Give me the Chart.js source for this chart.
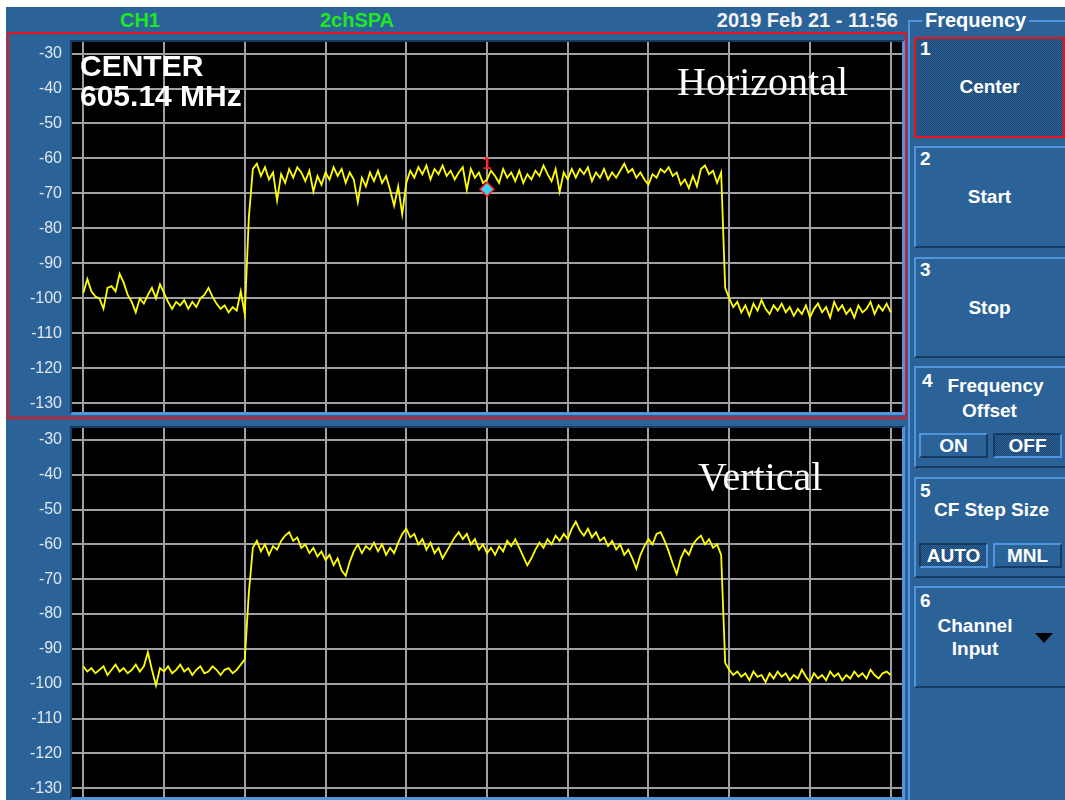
<!DOCTYPE html>
<html>
<head>
<meta charset="utf-8">
<script src="https://cdn.jsdelivr.net/npm/chart.js"></script>
<style>
    body {margin: 0; width: 1065px; height: 800px; overflow: hidden; background: #fff; font-family: 'Liberation Sans', Arial, sans-serif; position: relative}
    .abs {position: absolute}
    #app {left: 6px; top: 7px; width: 1059px; height: 793px; background: #2b6399}
    .hdr {top: 10px; font-weight: bold; font-size: 20px; line-height: 1; white-space: nowrap}
    .grp {background: #4f96de}
    .redbox {left: 7px; top: 32px; width: 900px; height: 387px; border: 2px solid #e8141c; box-sizing: border-box}
    .frame {left: 70px; width: 835px; background: #000; box-sizing: border-box;
        border-top: 2px solid #173b60; border-left: 2px solid #173b60; border-right: 3px solid #4f96de; border-bottom: 3px solid #4f96de}
    canvas {position: absolute; left: 10px; z-index: 2}
    .big {left: 80px; z-index: 3; color: #fff; font-weight: bold; font-size: 30px; line-height: 1; white-space: nowrap}
    .serif {z-index: 3; color: #fff; font-family: 'Liberation Serif', 'Times New Roman', serif; font-size: 40px; line-height: 1; white-space: nowrap}
    .btn {left: 914px; width: 151px; box-sizing: border-box; color: #fff; font-weight: bold; font-size: 19px; line-height: 1;
        border-top: 2px solid #4f96de; border-left: 2px solid #4f96de; border-bottom: 2px solid #173b60}
    .btn span {position: absolute; white-space: nowrap}
    .btn .lbl {left: 0; width: 147px; text-align: center}
    .sel {background-color: #23527f;
        background-image: conic-gradient(#1c4570 25%, #2b6399 0 50%, #1c4570 0 75%, #2b6399 0);
        background-size: 2px 2px}
    .btn1 {border: 2px solid #e8141c}
    .mini {position: absolute; width: 69px; height: 25px; box-sizing: border-box; text-align: center; line-height: 21px;
        border: 2px solid; border-color: #4f96de #173b60 #173b60 #4f96de}
    .mini.sel {border-color: #173b60 #4f96de #4f96de #173b60}
    .tri {position: absolute; width: 0; height: 0; border-left: 9px solid transparent; border-right: 9px solid transparent; border-top: 10px solid #000}
</style>
</head>
<body>
<div id="app" class="abs"></div>

<!-- 顶部标题栏 -->
<div class="abs hdr" style="left:100px;width:80px;text-align:center;color:#1ee81e">CH1</div>
<div class="abs hdr" style="left:307px;width:100px;text-align:center;color:#1ee81e">2chSPA</div>
<div class="abs hdr" style="left:640px;width:258px;text-align:right;color:#f2f2f2">2019 Feb 21 - 11:56</div>
<div class="abs hdr" style="left:925px;color:#fff">Frequency</div>
<div class="abs grp" style="left:908px;top:20px;width:14px;height:2px"></div>
<div class="abs grp" style="left:1029px;top:20px;width:36px;height:2px"></div>
<div class="abs grp" style="left:908px;top:20px;width:2px;height:780px"></div>

<!-- 图表区域 -->
<div class="abs redbox"></div>
<div class="abs frame" style="top:40px;height:375px"></div>
<div class="abs frame" style="top:426px;height:374px"></div>
<canvas id="hChart" width="892" height="394" style="top:30px"></canvas>
<canvas id="vChart" width="892" height="396" style="top:416px"></canvas>

<div class="abs big" style="top:51px">CENTER</div>
<div class="abs big" style="top:81px">605.14 MHz</div>
<div class="abs serif" style="left:677px;top:62px">Horizontal</div>
<div class="abs serif" style="left:698px;top:457px">Vertical</div>

<!-- 右侧菜单 -->
<div class="abs btn btn1 sel" style="top:37px;height:101px">
    <span style="left:4px;top:0">1</span>
    <span class="lbl" style="top:38px">Center</span>
</div>
<div class="abs btn" style="top:146px;height:102px">
    <span style="left:4px;top:1px">2</span>
    <span class="lbl" style="top:39px">Start</span>
</div>
<div class="abs btn" style="top:257px;height:101px">
    <span style="left:4px;top:1px">3</span>
    <span class="lbl" style="top:39px">Stop</span>
</div>
<div class="abs btn" style="top:366px;height:102px">
    <span style="left:6px;top:3px">4</span>
    <span class="lbl" style="top:8px;left:6px">Frequency</span>
    <span class="lbl" style="top:33px">Offset</span>
    <div class="mini" style="left:3px;top:65px">ON</div>
    <div class="mini sel" style="left:77px;top:65px">OFF</div>
</div>
<div class="abs btn" style="top:477px;height:101px">
    <span style="left:4px;top:2px">5</span>
    <span class="lbl" style="top:21px;left:2px">CF Step Size</span>
    <div class="mini sel" style="left:3px;top:64px">AUTO</div>
    <div class="mini" style="left:77px;top:64px">MNL</div>
</div>
<div class="abs btn" style="top:586px;height:102px">
    <span style="left:4px;top:3px">6</span>
    <span style="left:0;width:118px;text-align:center;top:28px">Channel</span>
    <span style="left:0;width:118px;text-align:center;top:51px">Input</span>
    <div class="tri" style="left:119px;top:45px"></div>
</div>

<script>
// 扫频参数 (MHz)
var freqStart = 600.14
var freqStep = 0.05
var gridFreqs = [600.14, 601.14, 602.14, 603.14, 604.14, 605.14, 606.14, 607.14, 608.14, 609.14, 610.14]
var levelTicks = [-30, -40, -50, -60, -70, -80, -90, -100, -110, -120, -130]

// Horizontal 通道 (dBm)
var horizTrace = [
    -98.5, -94.5, -98, -99.5, -100, -103, -97, -96.5, -98, -93,
    -95.5, -99, -101, -104, -100, -101.5, -99, -97, -100, -96,
    -98.5, -101, -103, -101, -102, -100.5, -103, -101, -102.5, -100,
    -99, -97, -99.5, -101.5, -103, -102, -104, -102.5, -103.5, -98,
    -104.5, -77, -63, -61.5, -65, -62.5, -66, -64, -72, -64.5,
    -67, -63, -65.5, -62.5, -64, -66.5, -63.5, -69.5, -65, -67.5,
    -64, -66, -62.5, -65, -63, -67, -64, -66, -72.5, -65.5,
    -68, -64, -66.5, -63.5, -67, -65, -69, -73.5, -68, -76,
    -67, -63.5, -65.5, -62.5, -64.5, -62, -66, -63, -64.5, -62,
    -65, -63.5, -66, -64, -62.5, -69, -63, -65.5, -64, -67,
    -66, -63.5, -65, -67, -63, -65.5, -64, -66.5, -63.5, -67,
    -64.5, -66, -63.5, -65, -62, -64.5, -66.5, -63, -69.5, -64,
    -66, -63, -65.5, -63, -64.5, -62.5, -66.5, -64, -65.5, -63,
    -66, -64, -65.5, -63.5, -61.5, -64, -63, -65.5, -64, -66,
    -67.5, -64.5, -65.5, -63, -64, -62.5, -65, -64, -67.5, -66,
    -68.5, -65, -68, -63, -62, -64.5, -63.5, -67, -64, -97,
    -100, -102.5, -101, -104, -102, -105, -101.5, -103.5, -100.5, -103,
    -104.5, -102, -103.5, -101.5, -104, -102.5, -105, -103, -104.5, -102,
    -105.5, -103, -101.5, -104, -102.5, -105.5, -101, -103.5, -102, -104.5,
    -103, -105.5, -102, -104, -103, -101, -104.5, -102, -103.5, -101.5,
    -104
]

// Vertical 通道 (dBm)
var vertTrace = [
    -95, -96.5, -95.5, -97, -96, -95, -97.5, -96, -94.5, -96.5,
    -95.5, -97, -96, -94.5, -96.5, -95, -91, -96, -100.5, -95.5,
    -96.5, -95, -97, -96, -94.5, -96.5, -95.5, -97.5, -96, -95,
    -97, -96.5, -95, -96, -97.5, -96, -95.5, -97, -96, -94.5,
    -93, -74, -61, -59, -62, -60, -63, -60.5, -61.5, -59,
    -57.5, -56.5, -59, -58, -61, -60, -62.5, -61, -63.5, -62,
    -64.5, -63, -66, -64, -67.5, -69, -65, -62, -60, -62.5,
    -60.5, -61.5, -59.5, -62, -60, -63, -61, -62.5, -59.5, -57,
    -55.5, -58, -57, -60, -58.5, -61.5, -59.5, -62.5, -61, -64,
    -62, -60, -58, -56.5, -58.5, -57, -60, -58.5, -61.5, -60,
    -62.5, -61, -63, -60.5, -62, -59, -60.5, -58.5, -61, -63.5,
    -66, -64, -61.5, -59.5, -61, -58.5, -60, -57.5, -59, -57,
    -58.5, -55.5, -53.5, -56, -57.5, -55.5, -58, -56.5, -59, -58,
    -60.5, -59, -61.5, -60, -63, -61.5, -64, -67, -63, -60.5,
    -58.5, -60, -57, -56.5, -59, -62, -65.5, -68.5, -64, -61.5,
    -63, -60, -58.5, -57.5, -60, -58.5, -61, -60, -63, -94,
    -96, -97.5, -96.5, -98, -97, -99, -96.5, -98, -97.5, -99.5,
    -97, -98.5, -96.5, -98, -97, -99, -97.5, -98.5, -96, -98,
    -99.5, -97, -98.5, -97.5, -99, -96.5, -98, -97, -99, -97.5,
    -98.5, -96.5, -98, -97, -98.5, -96, -97.5, -98.5, -97, -96.5,
    -97.5
]

// 标记 1
var markerFreq = [605.14]
var markerLevel = [-68.8]

var gridColor = '#a0a0a0'
var tickFont = {family: "'Liberation Sans', Arial, sans-serif", size: 16}

//黑色屏幕背景
var screenBg = {
    id: 'screenBg',
    beforeDraw: chart => {
        var a = chart.chartArea
        var ctx = chart.ctx
        ctx.save()
        ctx.fillStyle = '#000'
        ctx.fillRect(a.left, a.top, a.right - a.left, a.bottom - a.top)
        ctx.restore()
    }
}

//标记编号
var markerLabel = {
    id: 'markerLabel',
    afterDatasetsDraw: chart => {
        if (chart.data.datasets.length < 2) return
        var p = chart.getDatasetMeta(1).data[0]
        var ctx = chart.ctx
        ctx.save()
        ctx.fillStyle = '#ff2020'
        ctx.font = "bold 16px 'Liberation Sans', Arial"
        ctx.textAlign = 'center'
        ctx.textBaseline = 'alphabetic'
        ctx.fillText('1', p.x, p.y - 20)
        ctx.restore()
    }
}

var makeChart = (id, trace, yMax, yMin, bottomPad, withMarker) => {
    var datasets = [{
        data: trace.map((v, i) => ({x: freqStart + i * freqStep, y: v})),
        borderColor: '#ffff00',
        borderWidth: 1.8,
        pointRadius: 0,
        tension: 0,
        order: 1
    }]
    if (withMarker) {
        datasets.push({
            data: markerFreq.map((f, i) => ({x: f, y: markerLevel[i]})),
            showLine: false,
            pointStyle: 'rectRot',
            pointRadius: 7,
            pointBackgroundColor: '#3fd2f7',
            pointBorderColor: '#ff2020',
            pointBorderWidth: 1.5,
            order: 0
        })
    }
    return new Chart(document.getElementById(id), {
        type: 'line',
        data: {datasets: datasets},
        plugins: [screenBg, markerLabel],
        options: {
            responsive: false,
            animation: false,
            devicePixelRatio: 1,
            events: [],
            layout: {autoPadding: false, padding: {left: 0, right: 0, top: 12, bottom: bottomPad}},
            plugins: {legend: {display: false}, tooltip: {enabled: false}},
            scales: {
                x: {
                    type: 'linear',
                    min: 600.0,
                    max: 610.28,
                    afterBuildTicks: s => { s.ticks = gridFreqs.map(v => ({value: v})) },
                    afterFit: s => { s.height = 0 },
                    ticks: {display: false},
                    grid: {color: gridColor, lineWidth: 2, drawTicks: false},
                    border: {display: false}
                },
                y: {
                    min: yMin,
                    max: yMax,
                    afterBuildTicks: s => { s.ticks = levelTicks.map(v => ({value: v})) },
                    afterFit: s => { s.width = 62 },
                    ticks: {color: '#dfe7f1', font: tickFont, padding: 0, autoSkip: false},
                    grid: {color: gridColor, lineWidth: 2, drawTicks: true, tickLength: 10, tickColor: 'rgba(0,0,0,0)'},
                    border: {display: false}
                }
            }
        }
    })
}

makeChart('hChart', horizTrace, -26.7, -132.5, 12, true)
makeChart('vChart', vertTrace, -26.6, -132.5, 15, false)
</script>
</body>
</html>
